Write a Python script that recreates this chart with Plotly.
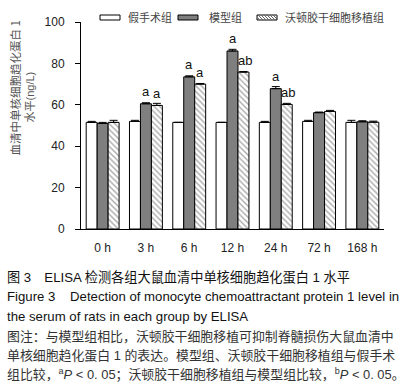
import plotly.graph_objects as go

categories = ["0 h", "3 h", "6 h", "12 h", "24 h", "72 h", "168 h"]
series_names = ["假手术组", "模型组", "沃顿胶干细胞移植组"]
sham = [51.5, 52.0, 51.5, 51.5, 51.5, 52.0, 51.5]
model = [51.0, 60.5, 73.5, 86.0, 67.8, 56.2, 51.8]
trans = [51.5, 59.7, 70.0, 75.8, 60.2, 56.8, 51.6]
sham_err = [0.5, 0.5, 0.0, 0.0, 0.5, 0.5, 1.0]
model_err = [0.5, 0.5, 0.5, 0.8, 1.0, 0.3, 0.5]
trans_err = [1.0, 1.0, 0.3, 0.3, 0.5, 0.5, 0.5]
model_sig = ["", "a", "a", "a", "a", "", ""]
trans_sig = ["", "a", "a", "ab", "ab", "", ""]
y_ticks = [0, 20, 40, 60, 80, 100]

W, H = 409, 392
L, R, T, B = 81, 25, 22, 163
PW, PH = W - L - R, H - T - B
BARGAP = 0.24

def px(x):
    return (x - L) / PW

def py(y):
    return (H - B - y) / PH

FONT = "Liberation Sans, Arial, sans-serif"
CJK = "Noto Sans CJK SC, sans-serif"
MIX = "Liberation Sans, Arial, Noto Sans CJK SC, sans-serif"

fig = go.Figure()
styles = [
    dict(color="white"),
    dict(color="#7f7f7f"),
    dict(color="white", pattern=dict(shape="\\", fgcolor="#555555", bgcolor="white", size=4, solidity=0.35)),
]
for name, vals, errs, st in zip(series_names, [sham, model, trans], [sham_err, model_err, trans_err], styles):
    fig.add_trace(go.Bar(
        x=categories, y=vals, name=name,
        marker=dict(line=dict(color="black", width=1), **st),
        error_y=dict(type="data", array=errs, arrayminus=[0] * len(errs), symmetric=False,
                     color="black", thickness=1, width=4),
        showlegend=False,
    ))

bw = (1 - BARGAP) / 3
annos = []
for j, (vals, errs, sigs) in enumerate([(model, model_err, model_sig), (trans, trans_err, trans_sig)]):
    off = j * bw
    for i, s in enumerate(sigs):
        if s:
            annos.append(dict(x=i + off + (0.04 if len(s) > 1 else 0), y=vals[i], xref="x", yref="y", text=s,
                              showarrow=False, yanchor="middle", yshift=12,
                              font=dict(family=FONT, size=13, color="#111")))

# manual legend
shapes = []
boxes = [(100, "white"), (178, "#7f7f7f"), (257, "white")]
for x0, col in boxes:
    shapes.append(dict(type="rect", xref="paper", yref="paper", x0=px(x0), x1=px(x0 + 20),
                       y0=py(20), y1=py(15), fillcolor=col, line=dict(color="black", width=1)))
hx0, hx1, hy0, hy1 = 257, 277, 15, 20
x = hx0 - 5
while x < hx1:
    xa, ya, xb, yb = x, hy0, x + 5, hy1
    if xa < hx0:
        ya = ya + (hx0 - xa); xa = hx0
    if xb > hx1:
        yb = yb - (xb - hx1); xb = hx1
    if xb > xa:
        shapes.append(dict(type="line", xref="paper", yref="paper", x0=px(xa), y0=py(ya), x1=px(xb), y1=py(yb),
                           line=dict(color="#666666", width=1)))
    x += 3

for xt, txt in zip([126, 207, 283], series_names):
    annos.append(dict(x=px(xt), y=py(17.5), xref="paper", yref="paper", text=txt, showarrow=False,
                      xanchor="left", yanchor="middle", font=dict(family=CJK, size=11, color="#444")))

# y-axis title (two lines)
annos.append(dict(x=px(14), y=py(88.5), xref="paper", yref="paper", text="血清中单核细胞趋化蛋白 1",
                  textangle=-90, showarrow=False, xanchor="center", yanchor="middle",
                  font=dict(family=CJK, size=11.5, color="#555")))
annos.append(dict(x=px(30), y=py(97.5), xref="paper", yref="paper", text="水平(ng/L)",
                  textangle=-90, showarrow=False, xanchor="center", yanchor="middle",
                  font=dict(family=MIX, size=11, color="#555")))

# caption
cap = [
    ("图 3\u3000ELISA 检测各组大鼠血清中单核细胞趋化蛋白 1 水平", 277, 13.2, "#111"),
    ("Figure 3\u00a0\u00a0\u00a0 Detection of monocyte chemoattractant protein 1 level in", 296.5, 13.2, "#111"),
    ("the serum of rats in each group by ELISA", 316, 13.2, "#111"),
    ("图注：与模型组相比，沃顿胶干细胞移植可抑制脊髓损伤大鼠血清中", 336, 12.9, "#333"),
    ("单核细胞趋化蛋白 1 的表达。模型组、沃顿胶干细胞移植组与假手术", 355.5, 12.9, "#333"),
    ("组比较，<sup>a</sup><i>P</i> < 0. 05；沃顿胶干细胞移植组与模型组比较，<sup>b</sup><i>P</i> < 0. 05。", 374.5, 12.9, "#333"),
]
for txt, yy, sz, col in cap:
    annos.append(dict(x=px(5), y=py(yy), xref="paper", yref="paper", text=txt, showarrow=False,
                      xanchor="left", yanchor="middle", font=dict(family=MIX, size=sz, color=col)))

fig.update_layout(
    width=W, height=H, autosize=False,
    margin=dict(l=L, r=R, t=T, b=B, pad=0),
    paper_bgcolor="white", plot_bgcolor="white",
    barmode="group", bargap=BARGAP, bargroupgap=0,
    shapes=shapes, annotations=annos,
    font=dict(family=FONT, color="#222"),
)
fig.update_xaxes(range=[-0.5, 6.5], showline=True, linecolor="black", linewidth=1, ticks="",
                 showgrid=False, zeroline=False, tickfont=dict(family=FONT, size=12, color="#222"),
                 ticklabelstandoff=8)
fig.update_yaxes(range=[0, 100], tickvals=y_ticks, showline=True, linecolor="black", linewidth=1,
                 ticks="outside", ticklen=5, tickcolor="black", showgrid=False, zeroline=False,
                 tickfont=dict(family=FONT, size=12, color="#222"), ticklabelstandoff=8)

fig.write_html("out.html", config={"displayModeBar": False},
               post_script="document.body.style.margin='0';document.body.style.padding='0';")
